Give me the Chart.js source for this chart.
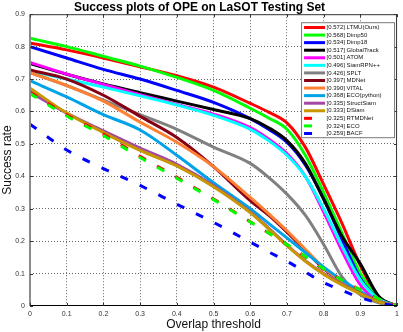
<!DOCTYPE html>
<html>
<head>
<meta charset="utf-8">
<script src="https://cdn.jsdelivr.net/npm/chart.js@4"></script>
<style>
  html, body { margin: 0; padding: 0; background: #fff; }
  #wrap { width: 403px; height: 332px; position: relative; }
</style>
</head>
<body>
<div id="wrap"><canvas id="successChart"></canvas></div>
<script>
const thresholds = [0, 0.1, 0.2, 0.3, 0.4, 0.5, 0.6, 0.65, 0.7, 0.75, 0.8, 0.85, 0.9, 0.95, 1];

const trackers = ['LTMU(Ours)', 'Dimp50', 'Dimp18', 'GlobalTrack', 'ATOM', 'SiamRPN++', 'SPLT', 'MDNet',
                  'VITAL', 'ECO(python)', 'StructSiam', 'DSiam', 'RTMDNet', 'ECO', 'BACF'];
const aucScores = ['0.572', '0.568', '0.534', '0.517', '0.501', '0.496', '0.426', '0.397',
                   '0.390', '0.368', '0.335', '0.333', '0.325', '0.324', '0.259'];

const ltmu        = [0.811, 0.790, 0.765, 0.738, 0.710, 0.675, 0.625, 0.598, 0.565, 0.490, 0.375, 0.255, 0.125, 0.028, 0];
const dimp50      = [0.826, 0.800, 0.770, 0.740, 0.705, 0.665, 0.610, 0.580, 0.545, 0.465, 0.350, 0.225, 0.100, 0.025, 0];
const dimp18      = [0.800, 0.765, 0.730, 0.700, 0.665, 0.628, 0.578, 0.545, 0.505, 0.435, 0.330, 0.205, 0.085, 0.022, 0];
const globalTrack = [0.748, 0.715, 0.685, 0.658, 0.632, 0.606, 0.578, 0.550, 0.510, 0.440, 0.330, 0.215, 0.130, 0.030, 0];
const atom        = [0.751, 0.715, 0.683, 0.652, 0.622, 0.592, 0.550, 0.515, 0.470, 0.400, 0.290, 0.170, 0.065, 0.015, 0];
const siamRpn     = [0.725, 0.700, 0.675, 0.648, 0.620, 0.588, 0.545, 0.510, 0.465, 0.400, 0.300, 0.185, 0.080, 0.022, 0];
const splt        = [0.720, 0.680, 0.635, 0.590, 0.545, 0.490, 0.440, 0.397, 0.345, 0.280, 0.190, 0.090, 0.035, 0.010, 0];
const mdnet       = [0.728, 0.700, 0.650, 0.585, 0.520, 0.430, 0.325, 0.280, 0.228, 0.172, 0.115, 0.075, 0.040, 0.015, 0];
const vital       = [0.720, 0.680, 0.632, 0.567, 0.505, 0.430, 0.335, 0.285, 0.232, 0.175, 0.118, 0.075, 0.040, 0.015, 0];
const ecoPython   = [0.695, 0.645, 0.590, 0.543, 0.465, 0.380, 0.300, 0.255, 0.210, 0.165, 0.120, 0.080, 0.045, 0.015, 0];
const structSiam  = [0.660, 0.595, 0.540, 0.487, 0.437, 0.372, 0.290, 0.240, 0.188, 0.140, 0.100, 0.068, 0.040, 0.015, 0];
const dsiam       = [0.672, 0.595, 0.535, 0.480, 0.432, 0.368, 0.288, 0.238, 0.186, 0.138, 0.098, 0.065, 0.038, 0.013, 0];
const rtmdnet     = [0.660, 0.590, 0.530, 0.462, 0.397, 0.330, 0.260, 0.225, 0.190, 0.152, 0.113, 0.080, 0.050, 0.022, 0];
const eco         = [0.655, 0.586, 0.526, 0.458, 0.394, 0.328, 0.259, 0.225, 0.190, 0.153, 0.115, 0.080, 0.050, 0.022, 0];
const bacf        = [0.561, 0.481, 0.424, 0.372, 0.314, 0.258, 0.197, 0.167, 0.138, 0.105, 0.072, 0.048, 0.026, 0.010, 0];

const xTickLabels = ['0', '0.1', '0.2', '0.3', '0.4', '0.5', '0.6', '0.7', '0.8', '0.9', '1'];
const yTickLabels = ['0', '0.1', '0.2', '0.3', '0.4', '0.5', '0.6', '0.7', '0.8', '0.9'];

const seriesValues = [ltmu, dimp50, dimp18, globalTrack, atom, siamRpn, splt, mdnet,
                      vital, ecoPython, structSiam, dsiam, rtmdnet, eco, bacf];
const colors = ['#ff0000', '#00ff00', '#0000ff', '#000000', '#ff00ff', '#00ffff', '#808080', '#880015',
                '#ff8033', '#00a2e8', '#a349a4', '#c89600', '#ff0000', '#00ff00', '#0000ff'];
const dashed = [false, false, false, false, false, false, false, false,
                false, false, false, false, true, true, true];

const FONT = '"Liberation Sans", Arial, sans-serif';

const datasets = trackers.map((name, i) => ({
    label: '[' + aucScores[i] + '] ' + name,
    data: thresholds.map((t, j) => ({ x: t, y: seriesValues[i][j] })),
    borderColor: colors[i],
    backgroundColor: colors[i],
    borderWidth: 3,
    borderDash: dashed[i] ? [8, 13] : [],
    pointRadius: 0,
    cubicInterpolationMode: 'monotone',
    fill: false,
    order: trackers.length - 1 - i   // later trackers end up on top, like the matlab plot
}));

// box around the axes + inward tick marks + legend
const frameAndLegend = {
    id: 'frameAndLegend',
    afterDatasetsDraw(chart) {
        const { ctx, chartArea: a, scales } = chart;
        ctx.save();
        ctx.setLineDash([]);
        ctx.lineWidth = 1;
        ctx.strokeStyle = '#333';
        ctx.beginPath();
        ctx.moveTo(a.left, a.top + 0.5); ctx.lineTo(a.right, a.top + 0.5);
        ctx.moveTo(a.right - 0.5, a.top); ctx.lineTo(a.right - 0.5, a.bottom);
        ctx.stroke();
        ctx.strokeStyle = '#000';
        ctx.beginPath();
        ctx.moveTo(a.left, a.bottom - 0.5); ctx.lineTo(a.right, a.bottom - 0.5);
        ctx.stroke();
        ctx.strokeStyle = '#8c8c8c';
        ctx.lineWidth = 2;
        ctx.beginPath();
        ctx.moveTo(a.left, a.top); ctx.lineTo(a.left, a.bottom);
        ctx.stroke();

        ctx.lineWidth = 1;
        ctx.strokeStyle = '#333';
        ctx.beginPath();
        scales.x.ticks.forEach(t => {
            const px = Math.round(scales.x.getPixelForValue(t.value)) + 0.5;
            ctx.moveTo(px, a.bottom); ctx.lineTo(px, a.bottom - 3);
            ctx.moveTo(px, a.top); ctx.lineTo(px, a.top + 3);
        });
        scales.y.ticks.forEach(t => {
            const py = Math.round(scales.y.getPixelForValue(t.value)) + 0.5;
            ctx.moveTo(a.left, py); ctx.lineTo(a.left + 3, py);
            ctx.moveTo(a.right, py); ctx.lineTo(a.right - 3, py);
        });
        ctx.stroke();
        ctx.restore();
    },
    afterDraw(chart) {
        const { ctx, chartArea: a } = chart;
        const ds = chart.data.datasets;
        const rowH = 7.57;
        const boxW = 93, boxH = 115;
        const x0 = a.right - 96, y0 = a.top + 8;
        ctx.save();
        ctx.fillStyle = '#fff';
        ctx.fillRect(x0, y0, boxW, boxH);
        ctx.strokeStyle = '#7a7a7a';
        ctx.lineWidth = 1;
        ctx.strokeRect(x0 + 0.5, y0 + 0.5, boxW, boxH);
        ctx.font = '6px ' + FONT;
        ctx.textBaseline = 'middle';
        ds.forEach((d, i) => {
            const y = y0 + 5.3 + i * rowH;
            ctx.strokeStyle = d.borderColor;
            ctx.lineWidth = 3;
            ctx.setLineDash(d.borderDash);
            ctx.beginPath();
            ctx.moveTo(x0 + 3, y); ctx.lineTo(x0 + 24, y);
            ctx.stroke();
            ctx.setLineDash([]);
            ctx.fillStyle = '#111';
            ctx.fillText(d.label, x0 + 25.5, y);
        });
        ctx.restore();
    }
};

const gridColor = (max) => (c) => {
    const v = c.tick.value;
    return (Math.abs(v) < 1e-9 || Math.abs(v - max) < 1e-9) ? 'rgba(0,0,0,0)' : 'rgba(0,0,0,0.6)';
};

new Chart(document.getElementById('successChart'), {
    type: 'line',
    data: { datasets: datasets },
    options: {
        responsive: true,
        maintainAspectRatio: false,
        animation: false,
        layout: { padding: { top: 0, right: 4, bottom: 0, left: 0 } },
        plugins: {
            legend: { display: false },
            tooltip: { enabled: false },
            title: {
                display: true,
                text: 'Success plots of OPE on LaSOT Testing Set',
                color: '#000',
                font: { family: FONT, size: 12, weight: 'bold', lineHeight: 1.1 },
                padding: { top: 1, bottom: 0 }
            }
        },
        scales: {
            x: {
                type: 'linear',
                min: 0,
                max: 1,
                afterFit: s => { s.height = 26; },
                afterBuildTicks: s => { s.ticks = xTickLabels.map(l => ({ value: parseFloat(l) })); },
                ticks: {
                    autoSkip: false,
                    maxRotation: 0,
                    padding: 4,
                    color: '#333',
                    font: { family: FONT, size: 7 },
                    callback: (v, i) => xTickLabels[i]
                },
                grid: { color: gridColor(1), drawTicks: false, lineWidth: 1 },
                border: { display: false, dash: [1, 2] },
                title: {
                    display: true,
                    text: 'Overlap threshold',
                    color: '#111',
                    font: { family: FONT, size: 12 },
                    padding: 0
                }
            },
            y: {
                type: 'linear',
                min: 0,
                max: 0.9,
                afterFit: s => { s.width = 30; },
                afterBuildTicks: s => { s.ticks = yTickLabels.map(l => ({ value: parseFloat(l) })); },
                ticks: {
                    autoSkip: false,
                    padding: 5,
                    color: '#333',
                    font: { family: FONT, size: 7 },
                    callback: (v, i) => yTickLabels[i]
                },
                grid: { color: gridColor(0.9), drawTicks: false, lineWidth: 1 },
                border: { display: false, dash: [1, 2] },
                title: {
                    display: true,
                    text: 'Success rate',
                    color: '#111',
                    font: { family: FONT, size: 12 },
                    padding: 0
                }
            }
        }
    },
    plugins: [frameAndLegend]
});
</script>
</body>
</html>
